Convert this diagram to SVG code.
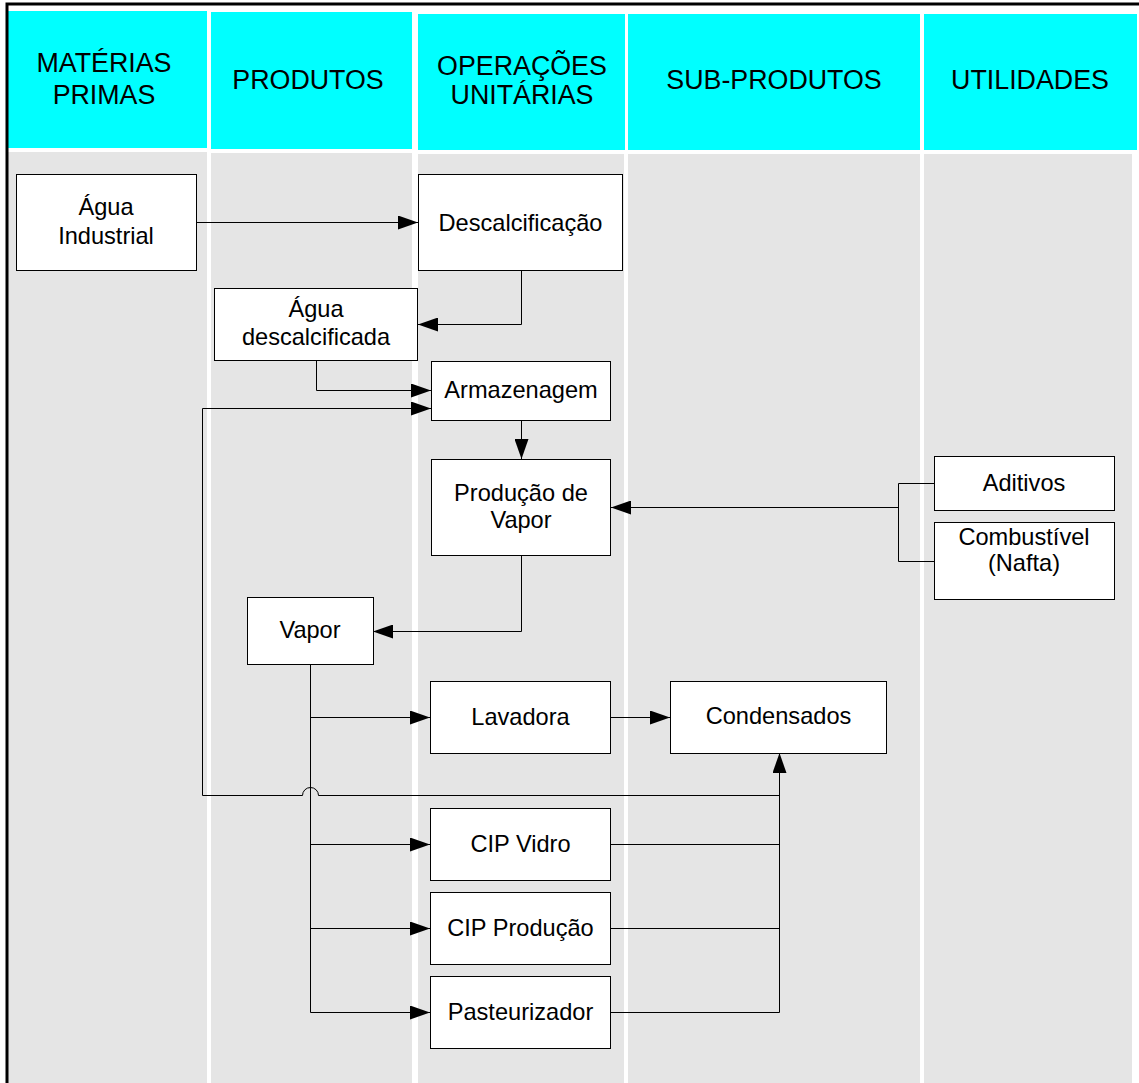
<svg xmlns="http://www.w3.org/2000/svg" width="1139" height="1083" viewBox="0 0 1139 1083">
  <style>
    .hdr { fill: #00FFFF; }
    .lane { fill: #E5E5E5; }
    .hdr-text { font-family: "Liberation Sans", Arial, sans-serif; font-size: 26.8px; fill: #000; text-anchor: middle; }
    .box rect { fill: #FFFFFF; stroke: #000; stroke-width: 1; }
    .box text { font-family: "Liberation Sans", Arial, sans-serif; font-size: 23.6px; fill: #000; text-anchor: middle; }
    .conn { fill: none; stroke: #000; stroke-width: 1; }
  </style>
  <defs>
    <marker id="arrow" markerUnits="userSpaceOnUse" markerWidth="20" markerHeight="14" refX="20" refY="7" orient="auto">
      <path d="M0,0 L20,7 L0,14 Z" fill="#000"/>
    </marker>
  </defs>

  <!-- page background -->
  <rect x="0" y="0" width="1139" height="1083" fill="#FFFFFF"/>

  <!-- swimlane bodies -->
  <g id="lanes">
    <rect class="lane" x="8" y="152" width="199" height="931"/>
    <rect class="lane" x="211" y="153" width="201" height="930"/>
    <rect class="lane" x="418" y="154" width="206" height="929"/>
    <rect class="lane" x="628" y="154" width="292" height="929"/>
    <rect class="lane" x="924" y="154" width="208" height="929"/>
  </g>

  <!-- swimlane headers -->
  <g id="headers">
    <rect class="hdr" x="8" y="11" width="199" height="137"/>
    <rect class="hdr" x="211" y="12" width="201" height="137"/>
    <rect class="hdr" x="418" y="14" width="207" height="136"/>
    <rect class="hdr" x="628" y="14" width="292" height="136"/>
    <rect class="hdr" x="924" y="14" width="213" height="136"/>
    <text class="hdr-text" x="104" y="72">MATÉRIAS</text>
    <text class="hdr-text" x="104" y="104">PRIMAS</text>
    <text class="hdr-text" x="308" y="89">PRODUTOS</text>
    <text class="hdr-text" x="522" y="75">OPERAÇÕES</text>
    <text class="hdr-text" x="522" y="104">UNITÁRIAS</text>
    <text class="hdr-text" x="774" y="89">SUB-PRODUTOS</text>
    <text class="hdr-text" x="1030" y="89">UTILIDADES</text>
  </g>

  <!-- page frame -->
  <path d="M7,1083 V4 H1139" fill="none" stroke="#000" stroke-width="3"/>

  <!-- connectors -->
  <g id="connectors">
    <path class="conn" d="M197,222.5 H418" marker-end="url(#arrow)"/>
    <path class="conn" d="M521.5,270 V324.5 H418" marker-end="url(#arrow)"/>
    <path class="conn" d="M316.5,361 V390.5 H431" marker-end="url(#arrow)"/>
    <path class="conn" d="M779.5,795.5 H318.5 A8,8 0 0 0 302.5,795.5 H202.5 V408.5 H431" marker-end="url(#arrow)"/>
    <path class="conn" d="M521.5,420 V459" marker-end="url(#arrow)"/>
    <path class="conn" d="M934,483.5 H898.5 V561.5 H934"/>
    <path class="conn" d="M898.5,507.5 H611" marker-end="url(#arrow)"/>
    <path class="conn" d="M521.5,556 V631.5 H373" marker-end="url(#arrow)"/>
    <path class="conn" d="M310.5,664 V1012.5 H430" marker-end="url(#arrow)"/>
    <path class="conn" d="M310.5,717.5 H430" marker-end="url(#arrow)"/>
    <path class="conn" d="M310.5,844.5 H430" marker-end="url(#arrow)"/>
    <path class="conn" d="M310.5,928.5 H430" marker-end="url(#arrow)"/>
    <path class="conn" d="M611,717.5 H670" marker-end="url(#arrow)"/>
    <path class="conn" d="M611,844.5 H779.5"/>
    <path class="conn" d="M611,928.5 H779.5"/>
    <path class="conn" d="M611,1012.5 H779.5 V753" marker-end="url(#arrow)"/>
  </g>

  <!-- nodes -->
  <g id="agua-industrial" class="box">
    <rect x="16.5" y="174.5" width="180" height="96"/>
    <text x="106" y="215">Água</text>
    <text x="106" y="244">Industrial</text>
  </g>
  <g id="descalcificacao" class="box">
    <rect x="418.5" y="174.5" width="204" height="96"/>
    <text x="520.5" y="231">Descalcificação</text>
  </g>
  <g id="agua-descalcificada" class="box">
    <rect x="214.5" y="288.5" width="203" height="72"/>
    <text x="316" y="317">Água</text>
    <text x="316" y="345">descalcificada</text>
  </g>
  <g id="armazenagem" class="box">
    <rect x="431.5" y="361.5" width="179" height="59"/>
    <text x="521" y="398">Armazenagem</text>
  </g>
  <g id="producao-vapor" class="box">
    <rect x="431.5" y="459.5" width="179" height="96"/>
    <text x="521" y="501">Produção de</text>
    <text x="521" y="528">Vapor</text>
  </g>
  <g id="aditivos" class="box">
    <rect x="934.5" y="456.5" width="180" height="54"/>
    <text x="1024" y="491">Aditivos</text>
  </g>
  <g id="combustivel" class="box">
    <rect x="934.5" y="522.5" width="180" height="77"/>
    <text x="1024" y="545">Combustível</text>
    <text x="1024" y="571">(Nafta)</text>
  </g>
  <g id="vapor" class="box">
    <rect x="247.5" y="597.5" width="126" height="67"/>
    <text x="310" y="638">Vapor</text>
  </g>
  <g id="lavadora" class="box">
    <rect x="430.5" y="681.5" width="180" height="72"/>
    <text x="520.5" y="725">Lavadora</text>
  </g>
  <g id="condensados" class="box">
    <rect x="670.5" y="681.5" width="216" height="72"/>
    <text x="778.5" y="724">Condensados</text>
  </g>
  <g id="cip-vidro" class="box">
    <rect x="430.5" y="808.5" width="180" height="72"/>
    <text x="520.5" y="852">CIP Vidro</text>
  </g>
  <g id="cip-producao" class="box">
    <rect x="430.5" y="892.5" width="180" height="72"/>
    <text x="520.5" y="936">CIP Produção</text>
  </g>
  <g id="pasteurizador" class="box">
    <rect x="430.5" y="976.5" width="180" height="72"/>
    <text x="520.5" y="1020">Pasteurizador</text>
  </g>
</svg>
